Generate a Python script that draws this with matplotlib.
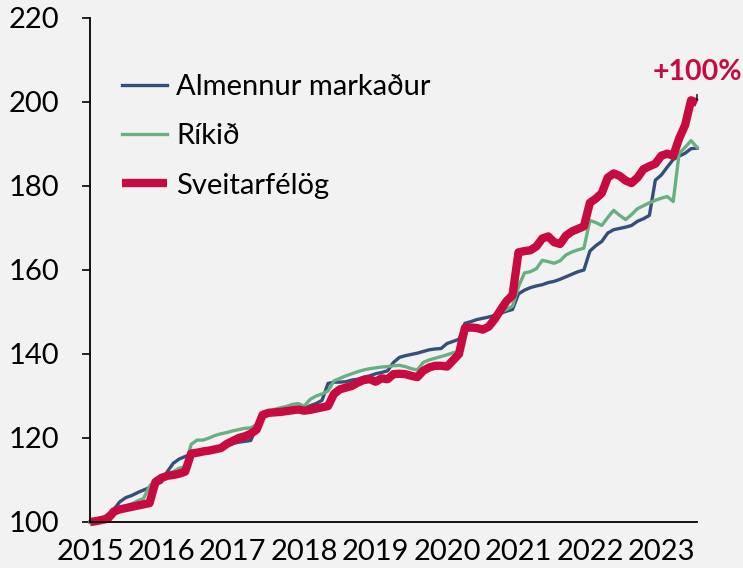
import numpy as np
import matplotlib
matplotlib.use("Agg")
import matplotlib.pyplot as plt

plt.rcParams['font.family'] = ['Lato', 'DejaVu Sans']

# Monthly index values, Jan 2015 = 100, Jan 2015 .. Jul 2023
almennur = [
    100, 100.2, 100.8, 101.8, 103, 104.8, 105.8, 106.3, 107, 107.6, 108.2, 108.8,
    109.5, 112, 114, 115, 115.6, 116.2, 116.5, 116.7, 117, 117.2, 117.6, 118.2,
    118.7, 119, 119.2, 119.4, 122.5, 125, 125.5, 125.7, 126, 126.2, 126.5, 126.8,
    127, 127.7, 128.2, 129, 133, 133.3, 133.3, 133.4, 133.8, 134, 134.5, 134.8,
    135.3, 135.6, 136, 138, 139.2, 139.6, 139.9, 140.2, 140.6, 141, 141.2, 141.3,
    142.5, 143, 143.5, 147.3, 147.7, 148.2, 148.5, 148.8, 149.2, 149.7, 150.2, 150.6,
    154.3, 155.2, 155.8, 156.2, 156.5, 157, 157.3, 157.8, 158.4, 159, 159.6, 160,
    164.5, 165.8, 166.8, 168.8, 169.6, 169.9, 170.2, 170.6, 171.6, 172.2, 173, 181.4,
    182.6, 184.5, 186.3, 187.1, 187.8, 188.9, 189,
]
rikid = [
    100, 100, 100, 100.2, 101.5, 102.9, 103.8, 104.3, 105, 105.6, 108.5, 110.2,
    110.8, 111.3, 112, 112.8, 113.2, 118.5, 119.5, 119.5, 120, 120.6, 121, 121.3,
    121.7, 122, 122.3, 122.4, 123.2, 125.8, 126.4, 126.8, 127.2, 127.5, 128, 128.2,
    127.6, 129.2, 130, 130.5, 131.2, 133.6, 134.2, 134.8, 135.3, 135.8, 136.2, 136.5,
    136.7, 136.9, 137, 137.2, 137.3, 137, 136.5, 136.2, 138, 138.6, 139, 139.4,
    139.8, 140.3, 140.6, 146, 146.2, 146.2, 145.8, 146.5, 148.3, 150, 150.6, 151.4,
    156, 159.3, 159.6, 160.3, 162.3, 162, 161.6, 162.2, 163.6, 164.3, 164.8, 165.2,
    171.8, 171.3, 170.6, 172.5, 174.2, 173, 172, 173.2, 174.6, 175.3, 176, 176.6,
    177.1, 177.5, 176.3, 187.8, 189.2, 190.8, 189.2,
]
sveitarfelog = [
    100, 100.2, 100.5, 100.8, 102.5, 103, 103.3, 103.6, 103.9, 104.2, 104.5, 109.5,
    110.5, 111, 111.2, 111.5, 112, 116.3, 116.5, 116.8, 117, 117.3, 117.6, 118.6,
    119.3, 120, 120.4, 121, 122, 125.5, 126, 126.1, 126.2, 126.4, 126.6, 126.8,
    126.5, 126.7, 127, 127.3, 127.6, 130.5, 131.6, 132, 132.4, 133.2, 133.8, 134,
    133.4, 134.2, 134, 135.2, 135.3, 135.2, 134.8, 134.5, 136, 136.8, 137.2, 137.2,
    137, 138.5, 140, 146.2, 146.3, 146.2, 145.8, 146.5, 148.3, 150.5, 152.6, 154,
    164.2, 164.5, 164.7, 165.6, 167.5, 168, 166.6, 166.2, 168.2, 169.2, 169.8, 170.4,
    176, 177, 178.3, 182, 183, 182.4, 181.3, 180.7, 182, 184, 184.7, 185.3,
    187.2, 187.7, 187.2, 191.3, 194.5, 200.4, 199.8,
]
labels = ["Almennur markaður", "Ríkið", "Sveitarfélög"]
year_ticks = [2015, 2016, 2017, 2018, 2019, 2020, 2021, 2022, 2023]
annotation = "+100%"

colors = ["#34507a", "#67b082", "#c70a3f"]
bg = "#f2f2f2"

t = 2015 + np.arange(len(sveitarfelog)) / 12.0

fig = plt.figure(figsize=(7.43, 5.68), dpi=100, facecolor=bg)
ax = fig.add_axes([90 / 743, 1 - 522 / 568, (697 - 90) / 743, (522 - 18) / 568])
ax.set_facecolor(bg)

ax.plot(t, almennur, color=colors[0], lw=2.4, label=labels[0], clip_on=False,
        solid_joinstyle='round')
ax.plot(t, rikid, color=colors[1], lw=2.4, label=labels[1], clip_on=False,
        solid_joinstyle='round')
ax.plot(t, sveitarfelog, color=colors[2], lw=6, label=labels[2], clip_on=False,
        solid_joinstyle='round', solid_capstyle='butt')

ax.set_xlim(t[0], t[-1])
ax.set_ylim(100, 220)
ax.set_yticks(np.arange(100, 221, 20))
ax.set_xticks(year_ticks)
ax.set_xticklabels([str(y) for y in year_ticks])

for s in ["top", "right"]:
    ax.spines[s].set_visible(False)
for s in ["left", "bottom"]:
    ax.spines[s].set_color("black")
    ax.spines[s].set_linewidth(1.3)

ax.tick_params(axis='y', direction='out', length=6, width=1.2, pad=16,
               labelsize=21, colors='black')
ax.tick_params(axis='x', length=0, pad=12, labelsize=21, colors='black')

ax.annotate(annotation, xy=(t[-1], sveitarfelog[-1]), xytext=(0, 13),
            textcoords='offset points', ha='center', va='bottom',
            fontsize=20.5, fontweight='bold', color=colors[2],
            arrowprops=dict(arrowstyle='-', color='black', lw=1,
                            shrinkA=5, shrinkB=2),
            annotation_clip=False)

leg = ax.legend(loc='upper left', bbox_to_anchor=(0.053, 0.889), frameon=False,
                fontsize=21, handlelength=1.55, handletextpad=0.3,
                labelspacing=0.8, borderaxespad=0, borderpad=0)

fig.savefig("out.png", dpi=100, facecolor=bg)
